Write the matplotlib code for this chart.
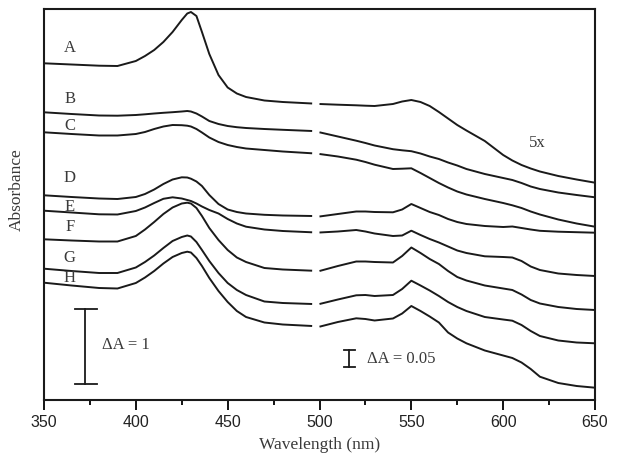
import numpy as np
import matplotlib
matplotlib.use("Agg")
import matplotlib.pyplot as plt

# Wavelength grids (nm): Soret region (left) and Q-band region (right, 5x)
wl_left = [350, 365, 380, 390, 400, 405, 410, 415, 420, 425, 428, 430, 433, 436,
           440, 445, 450, 455, 460, 470, 480, 496]
wl_right = [500, 510, 520, 525, 530, 540, 545, 550, 555, 560, 565, 570, 575, 580,
            590, 600, 605, 610, 615, 620, 630, 640, 650]

# Offset absorbance, arbitrary units (stacked spectra)
A_left = [336.7, 335.5, 334.3, 334, 339, 344, 350, 358, 368, 380, 386.5, 388, 384, 368,
          346, 325, 312.5, 306.5, 303, 299.5, 298, 296.5]
A_right = [296, 295.3, 294.7, 294.3, 294, 296, 298.5, 300, 298, 294, 288, 281.5, 275, 269.5,
           259, 245, 239.5, 235, 231.5, 228.5, 224, 220.5, 217.3]
B_left = [287.7, 286, 284.5, 284.3, 285, 285.7, 286.5, 287.2, 287.8, 288.5, 289, 288.5, 286.5, 283.5,
          279, 276, 274, 272.8, 272, 271, 270.2, 269]
B_right = [267.7, 263.5, 259.3, 257, 254.5, 250.8, 249.7, 248.8, 246.5, 243.5, 241, 237.5, 234.5, 231,
           226, 222, 220, 217, 213.5, 211, 207.5, 205, 202.7]
C_left = [267.7, 266, 264.5, 264.5, 266, 268, 271, 273.5, 275, 274.8, 274.3, 273.5, 271, 267.5,
          262.5, 258, 255, 253, 251.5, 250, 248.5, 246.7]
C_right = [246, 243.5, 240.3, 238, 235.3, 231, 231.3, 231.7, 227, 222, 217, 212.5, 208.5, 205.5,
           201, 197, 194.7, 192, 188.5, 185.5, 180.5, 176.5, 173.3]
D_left = [204.7, 203, 201.5, 201, 203, 206, 210.5, 216, 220.5, 222.7, 222.5, 221.3, 218.5, 214,
          205, 196, 190.5, 188, 186.5, 185.2, 184.5, 184]
D_right = [183.5, 186, 188.5, 188.5, 188, 187.7, 190.5, 196, 192, 188, 185, 181, 178, 176,
           174, 173, 173.5, 172, 170.5, 169.2, 168.3, 167.8, 167.3]
E_left = [189.3, 187.5, 185.7, 185.5, 189, 192.5, 197, 201.2, 202.7, 201.5, 200, 199, 196.5, 193.5,
          190, 186.5, 181, 176.5, 173.3, 170.5, 169, 167.7]
E_right = [167.5, 168.5, 170, 168.5, 166.5, 164, 164.5, 169.3, 165, 161, 157.5, 153.5, 149.5, 147,
           143.7, 143, 142.5, 139, 133.5, 130, 126.5, 125, 124]
F_left = [160.7, 159.5, 158.5, 158.5, 164, 170.5, 178, 186, 192.5, 196.5, 197.3, 196.5, 192, 184,
          172, 160, 150, 142.5, 138, 132, 130.5, 129.3]
F_right = [129, 134, 138.5, 138.5, 138, 137.5, 144, 152.5, 147, 141, 136, 129, 123, 119.5,
           114.5, 111.5, 110, 105.5, 100, 96.5, 93, 91, 90]
G_left = [131.3, 129, 127, 127, 132.5, 138, 144.5, 152, 159, 163, 164.5, 163.5, 158, 150,
          139, 127, 117, 110, 105, 98.5, 97, 96]
G_right = [96, 100.5, 104.7, 105, 104, 105, 111, 119.3, 114.5, 109.5, 104, 98, 93, 89,
           83, 80.5, 79.3, 75, 69, 64, 59.5, 57.5, 56.7]
H_left = [117.3, 114.5, 112, 111.5, 117, 122.5, 129, 136.5, 143, 147, 148.3, 147.5, 142, 134,
          122, 109, 98, 89, 83, 77.5, 75.5, 74]
H_right = [73.3, 78, 81.7, 81, 79.5, 81.5, 86.5, 94, 89, 83.5, 77.5, 67.5, 61.5, 56.7,
           49.5, 44.5, 42, 37.5, 31, 23.3, 17, 14, 12.3]

labels = ["A", "B", "C", "D", "E", "F", "G", "H"]
label_y = [352.3, 301, 274, 221.7, 193.3, 172.7, 141.7, 121.7]
left_series = [A_left, B_left, C_left, D_left, E_left, F_left, G_left, H_left]
right_series = [A_right, B_right, C_right, D_right, E_right, F_right, G_right, H_right]

# Scale bars (same arbitrary units): dA = 1 (left), dA = 0.05 at 5x (right)
unit_per_A = 74.4
bar1_len = 1.0 * unit_per_A
bar2_len = 0.05 * 5 * unit_per_A * 0.93

serif = ["Liberation Serif", "DejaVu Serif"]
sans = ["Liberation Sans", "DejaVu Sans"]
txt_col = "#3a3a3a"
line_col = "#1a1a1a"

fig = plt.figure(figsize=(6.21, 4.68), dpi=100)
ax = fig.add_axes([44 / 621, 68 / 468, 551 / 621, 391 / 468])

lw = 1.4
for yl, yr in zip(left_series, right_series):
    ax.plot(wl_left, yl, color=line_col, lw=lw, solid_capstyle="butt", solid_joinstyle="round")
    ax.plot(wl_right, yr, color=line_col, lw=lw, solid_capstyle="butt", solid_joinstyle="round")

for lab, y in zip(labels, label_y):
    ax.text(364, y, lab, family=serif, fontsize=12, color=txt_col,
            ha="center", va="center")

ax.text(618.5, 256.7, "5x", family=serif, fontsize=12, color=txt_col,
        ha="center", va="center")

# dA = 1 bar
x1, y1 = 372.3, 16.3
ax.plot([x1, x1], [y1, y1 + bar1_len], color=line_col, lw=1.3)
ax.plot([367, 378.7], [y1, y1], color=line_col, lw=1.3)
ax.plot([367, 378.7], [y1 + bar1_len, y1 + bar1_len], color=line_col, lw=1.3)
ax.text(381.4, 55, "ΔA = 1", family=serif, fontsize=12, color=txt_col,
        ha="left", va="center")

# dA = 0.05 bar
x2, y2 = 516.2, 32.7
ax.plot([x2, x2], [y2, y2 + bar2_len], color=line_col, lw=1.3)
ax.plot([513.5, 519.2], [y2, y2], color=line_col, lw=1.3)
ax.plot([513.5, 519.2], [y2 + bar2_len, y2 + bar2_len], color=line_col, lw=1.3)
ax.text(525.7, 40.7, "ΔA = 0.05", family=serif, fontsize=12, color=txt_col,
        ha="left", va="center")

ax.set_xlim(350, 650)
ax.set_ylim(0, 391)
ax.set_xticks([350, 400, 450, 500, 550, 600, 650])
ax.set_xticks(np.arange(375, 650, 50), minor=True)
ax.set_yticks([])
ax.tick_params(axis="x", which="major", direction="out", length=7, width=1.3,
               pad=4, labelsize=11.5, top=False)
ax.tick_params(axis="x", which="minor", direction="out", length=3.5, width=1.3, top=False)
for lbl in ax.get_xticklabels():
    lbl.set_family(sans)
    lbl.set_color("#222222")
for sp in ax.spines.values():
    sp.set_linewidth(1.5)
    sp.set_color(line_col)

ax.set_xlabel("Wavelength (nm)", family=serif, fontsize=12.5, color=txt_col, labelpad=5)
fig.text(17 / 621, 1 - 190 / 468, "Absorbance", family=serif, fontsize=12.5,
         color=txt_col, rotation=90, ha="center", va="center")

fig.savefig("out.png", dpi=100)
